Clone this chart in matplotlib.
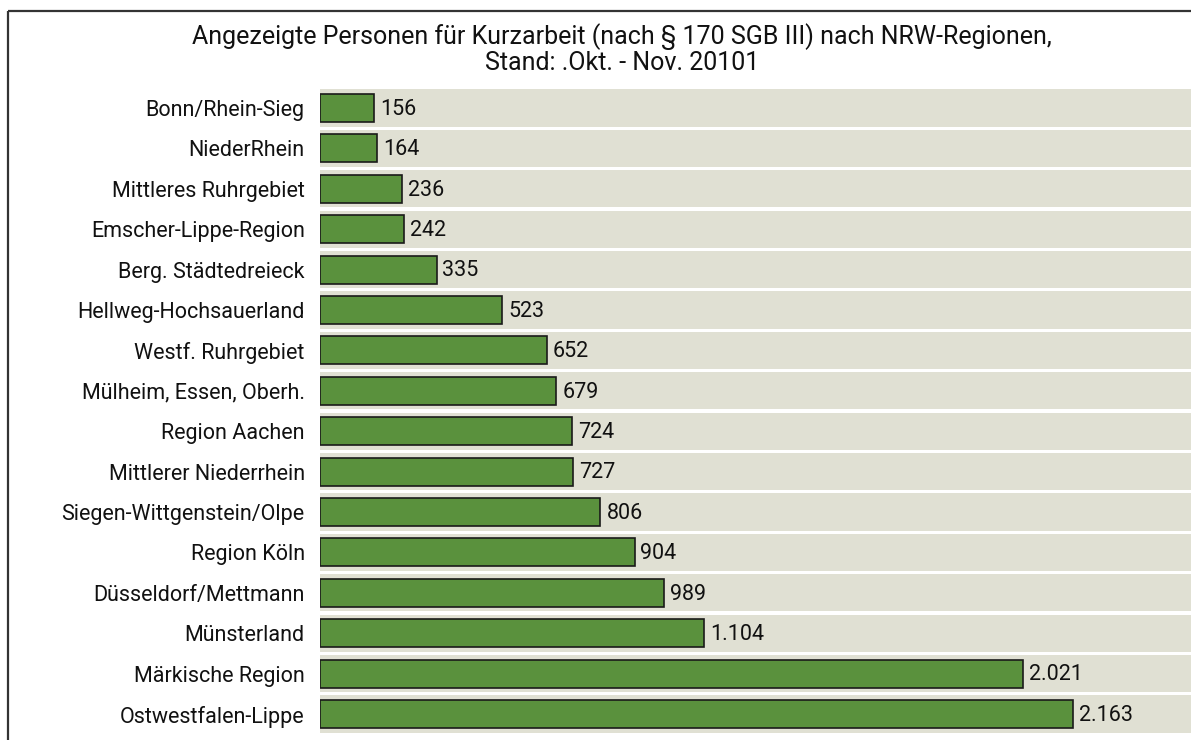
import matplotlib
matplotlib.use("Agg")
import matplotlib.pyplot as plt
from matplotlib.lines import Line2D

categories = ["Bonn/Rhein-Sieg", "NiederRhein", "Mittleres Ruhrgebiet", "Emscher-Lippe-Region",
              "Berg. Städtedreieck", "Hellweg-Hochsauerland", "Westf. Ruhrgebiet",
              "Mülheim, Essen, Oberh.", "Region Aachen", "Mittlerer Niederrhein",
              "Siegen-Wittgenstein/Olpe", "Region Köln", "Düsseldorf/Mettmann", "Münsterland",
              "Märkische Region", "Ostwestfalen-Lippe"]
values = [156, 164, 236, 242, 335, 523, 652, 679, 724, 727, 806, 904, 989, 1104, 2021, 2163]
title = "Angezeigte Personen für Kurzarbeit (nach § 170 SGB III) nach NRW-Regionen,\nStand: .Okt. - Nov. 20101"

plt.rcParams['font.family'] = ['Roboto', 'DejaVu Sans']

W, H = 1191, 740
fig = plt.figure(figsize=(W / 100, H / 100), dpi=100)

ax_left, ax_right = 320 / W, 1.0
ax_top, ax_bot = 1 - 87.8 / H, 1 - 734.2 / H
ax = fig.add_axes([ax_left, ax_bot, ax_right - ax_left, ax_top - ax_bot])

xmax = 2503
n = len(categories)
ypos = list(range(n))
ax.barh(ypos, [xmax] * n, height=0.92, left=0, color="#e0e0d3", edgecolor="none", zorder=1)
ax.barh(ypos, values, height=0.69, color="#5a913d", edgecolor="#1a1a1a", linewidth=1.2, zorder=2)

def fmt(v):
    return f"{v:,}".replace(",", ".")

for y, v in zip(ypos, values):
    ax.text(v + 17, y + 0.03, fmt(v), va="center", ha="left", fontsize=15.5, color="#111111", zorder=3)

ax.set_xlim(0, xmax)
ax.set_ylim(n - 0.5, -0.5)
ax.set_yticks(ypos)
ax.set_yticklabels(categories, fontsize=15.5, color="#111111")
ax.tick_params(axis="y", length=0, pad=11)
ax.set_xticks([])
for s in ax.spines.values():
    s.set_visible(False)

# title
fig.text(622 / W, 1 - 49 / H, title, ha="center", va="center", fontsize=18,
         color="#111111", linespacing=1.05)

# frame lines
fig.add_artist(Line2D([8 / W, 1.0], [1 - 11 / H, 1 - 11 / H], transform=fig.transFigure,
                      color="#333333", linewidth=1.6, solid_capstyle="butt"))
fig.add_artist(Line2D([8 / W, 8 / W], [1 - 11 / H, 0.0], transform=fig.transFigure,
                      color="#333333", linewidth=1.6, solid_capstyle="butt"))

fig.savefig("out.png", dpi=100)
